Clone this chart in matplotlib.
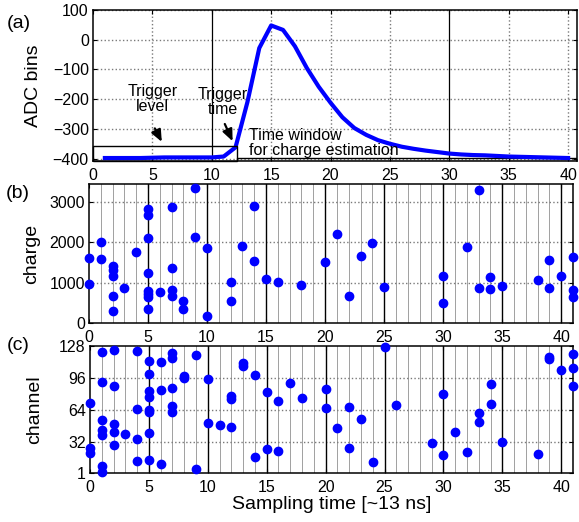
import numpy as np
import matplotlib
matplotlib.use("Agg")
import matplotlib.pyplot as plt
from matplotlib.patches import Rectangle

plt.rcParams['font.family'] = ['Liberation Sans', 'DejaVu Sans']

# (a) pulse waveform
adc_time = list(range(1, 41))
adc_vals = [-398, -398, -398, -398, -397, -396, -396, -396, -396, -396,
            -393, -362, -210, -28, 48, 33, -22, -95, -158, -212,
            -261, -297, -320, -338, -350, -360, -367, -373, -378, -383,
            -386, -388, -389, -391, -393, -394, -395, -396, -397, -398]

# (b) charge vs sampling time
charge_t = [0, 0, 1, 1, 2, 2, 2, 2, 2, 3, 4, 5, 5, 5, 5, 5, 5, 5, 5, 6,
            7, 7, 7, 7, 8, 8, 9, 9, 10, 10, 12, 12, 13, 14, 14, 15, 16, 18,
            20, 21, 22, 23, 24, 25, 30, 30, 32, 33, 33, 34, 34, 35, 38, 39, 39,
            40, 41, 41, 41]
charge_q = [1620, 980, 2000, 1580, 1420, 1310, 1165, 670, 300, 860, 1750,
            2820, 2680, 2120, 1250, 790, 720, 650, 340, 760,
            2875, 1370, 810, 660, 545, 350, 3350, 2125, 1870, 175,
            1010, 545, 1900, 2900, 1530, 1080, 1010, 935,
            1510, 2205, 660, 1660, 1980, 885, 1165, 495, 1885, 3300, 870,
            1140, 840, 925, 1060, 1560, 870, 1165, 1635, 820, 640]

# (c) channel vs sampling time
chan_t = [0, 0, 0, 1, 1, 1, 1, 1, 1, 1, 2, 2, 2, 2, 2, 3, 4, 4, 4, 4,
          5, 5, 5, 5, 5, 5, 5, 5, 6, 6, 6, 7, 7, 7, 7, 7, 8, 8, 9, 9,
          10, 10, 11, 12, 12, 12, 13, 13, 14, 14, 15, 15, 16, 16, 17, 18,
          20, 20, 21, 22, 22, 23, 24, 25, 26, 29, 30, 30, 31, 32, 33, 33,
          34, 34, 35, 38, 39, 39, 40, 41, 41, 41]
chan_ch = [71, 26, 21, 122, 92, 54, 44, 39, 8, 2, 124, 88, 50, 42, 29, 40,
           123, 65, 35, 13, 113, 100, 83, 77, 64, 62, 41, 14, 112, 84, 10,
           121, 116, 86, 68, 62, 98, 96, 119, 5, 95, 51, 49, 78, 75, 47,
           111, 108, 99, 17, 82, 25, 73, 23, 91, 76, 85, 66, 46, 67, 26,
           55, 12, 127, 69, 31, 80, 19, 42, 22, 61, 52, 90, 70, 32, 20,
           117, 115, 104, 120, 106, 88]

W, H = 579, 522
fig = plt.figure(figsize=(W / 100, H / 100), dpi=100)


def px_axes(left, top, right, bottom):
    return fig.add_axes([left / W, 1 - bottom / H, (right - left) / W, (bottom - top) / H])


def style(ax):
    ax.tick_params(direction='in', top=True, right=True, labelsize=11.5,
                   length=3, width=0.8, pad=3)
    ax.tick_params(axis='x', pad=5)
    for s in ax.spines.values():
        s.set_linewidth(1.1)
    ax.set_axisbelow(True)


grey = dict(color='#7a7a7a', linestyle=':', linewidth=1.0)

# ---- panel (a)
ax1 = px_axes(93, 10, 577, 161)
ax1.plot(adc_time, adc_vals, color='#0000ff', linewidth=3, solid_joinstyle='round', zorder=3)
ax1.set_xlim(0, 40.75)
ax1.set_ylim(-408, 100)
ax1.set_xticks(range(0, 41, 5))
ax1.set_yticks(range(-400, 101, 100))
for v in range(-400, 101, 100):
    ax1.axhline(v, zorder=0, **grey)
for v in range(5, 41, 5):
    if v in (10, 30):
        ax1.axvline(v, color='black', linewidth=0.9, zorder=1)
    else:
        ax1.axvline(v, zorder=0, **grey)
ax1.set_ylabel('ADC bins', fontsize=14)
ax1.yaxis.set_label_coords(-0.105, 0.5)
style(ax1)
ax1.add_patch(Rectangle((0, -408), 12.1, 50, fill=False, edgecolor='black',
                        linewidth=1.0, zorder=4, clip_on=False))
ax1.add_patch(Rectangle((12.1, -408), 28.65, 10, fill=False, edgecolor='black',
                        linewidth=1.0, zorder=2))
arrow = dict(arrowstyle='-|>,head_width=0.3,head_length=0.7', color='black', lw=1.6)
ax1.text(5.0, -200, 'Trigger\nlevel', ha='center', va='center', fontsize=11.5, linespacing=1.0)
ax1.annotate('', xy=(5.9, -352), xytext=(5.1, -290), arrowprops=arrow)
ax1.text(10.9, -208, 'Trigger\ntime', ha='center', va='center', fontsize=11.5, linespacing=1.0)
ax1.annotate('', xy=(11.85, -350), xytext=(11.0, -275), arrowprops=arrow)
ax1.text(13.1, -348, 'Time window\nfor charge estimation', ha='left', va='center',
         fontsize=11.5, linespacing=1.0)

# ---- panel (b)
ax2 = px_axes(89, 184, 573, 323)
ax2.plot(charge_t, charge_q, 'o', color='#0000ff', markersize=6, zorder=3, clip_on=False)
ax2.set_xlim(0, 41)
ax2.set_ylim(0, 3450)
ax2.set_xticks(range(0, 41, 5))
ax2.set_yticks([0, 1000, 2000, 3000])
ax2.set_ylabel('charge', fontsize=14)
ax2.yaxis.set_label_coords(-0.101, 0.5)

# ---- panel (c)
ax3 = px_axes(90, 346, 573, 473)
ax3.plot(chan_t, chan_ch, 'o', color='#0000ff', markersize=6, zorder=3, clip_on=False)
ax3.set_xlim(0, 41)
ax3.set_ylim(1, 128)
ax3.set_xticks(range(0, 41, 5))
ax3.set_yticks([1, 32, 64, 96, 128])
ax3.set_ylabel('channel', fontsize=14)
ax3.yaxis.set_label_coords(-0.097, 0.5)
ax3.set_xlabel('Sampling time [~13 ns]', fontsize=14, labelpad=1)

for ax, yt in ((ax2, [1000, 2000, 3000]), (ax3, [32, 64, 96])):
    for v in range(1, 41):
        if v % 5 == 0:
            ax.axvline(v, color='black', linewidth=1.0, zorder=1)
        else:
            ax.axvline(v, color='#a0a0a0', linewidth=0.7, zorder=0)
    for v in yt:
        ax.axhline(v, zorder=0, **grey)
    style(ax)

fig.text(19 / W, 1 - 23 / H, '(a)', fontsize=14, ha='center', va='center')
fig.text(18 / W, 1 - 193 / H, '(b)', fontsize=14, ha='center', va='center')
fig.text(18 / W, 1 - 345 / H, '(c)', fontsize=14, ha='center', va='center')

fig.savefig('out.png', dpi=100)
